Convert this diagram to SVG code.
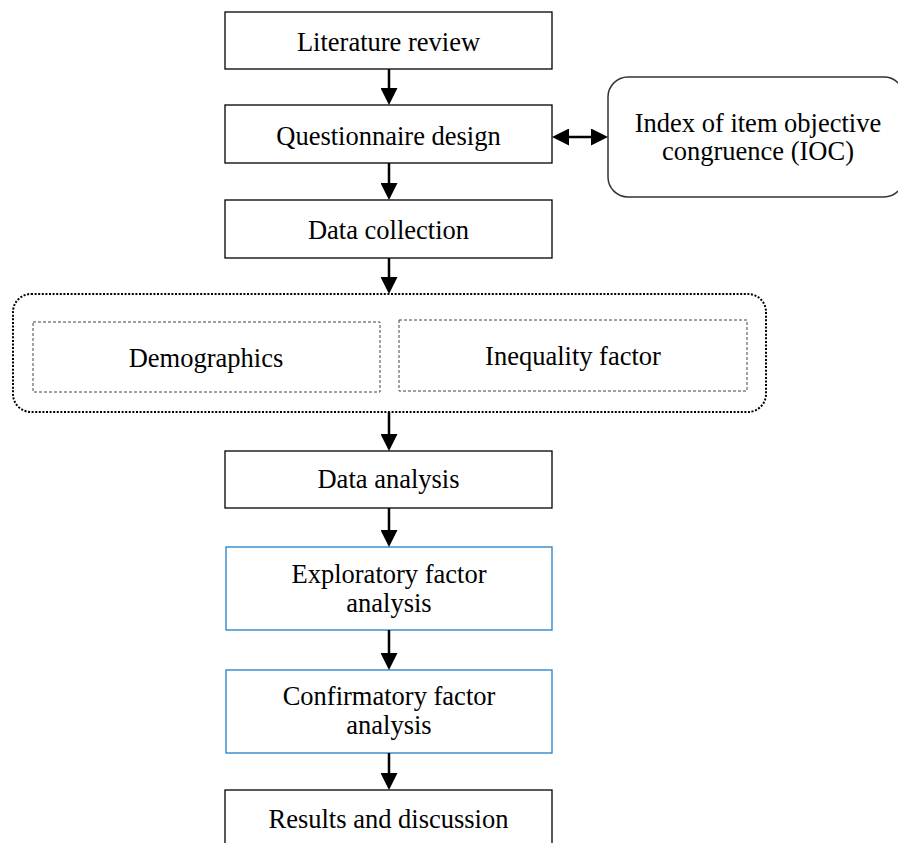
<svg xmlns="http://www.w3.org/2000/svg" width="898" height="843" viewBox="0 0 898 843">
<style>
  .box { fill: #ffffff; stroke: #000000; stroke-width: 1.3; }
  .blue { fill: #ffffff; stroke: #1f7fc8; stroke-width: 1.3; }
  .round { fill: #ffffff; stroke: #333333; stroke-width: 1.5; }
  .group { fill: none; stroke: #000000; stroke-width: 2; stroke-dasharray: 2 1.6; }
  .sub { fill: none; stroke: #444444; stroke-width: 1; stroke-dasharray: 3 2; }
  .t { font-family: "Liberation Serif", "Times New Roman", serif; font-size: 26.5px; fill: #000000; text-anchor: middle; }
  .conn { stroke: #000000; stroke-width: 2.5; fill: none; }
</style>
<defs>
  <marker id="ah" markerUnits="userSpaceOnUse" markerWidth="17" markerHeight="17" refX="13" refY="8.5" orient="auto-start-reverse" viewBox="0 0 17 17">
    <path d="M0,0 L17,8.5 L0,17 Z" fill="#000000"/>
  </marker>
</defs>
<rect width="898" height="843" fill="#ffffff"/>

<g id="literature-review">
  <rect class="box" x="225" y="12" width="327" height="57"/>
  <text class="t" x="388.5" y="51">Literature review</text>
</g>
<g id="questionnaire-design">
  <rect class="box" x="225" y="105" width="327" height="58"/>
  <text class="t" x="388.5" y="145">Questionnaire design</text>
</g>
<g id="ioc">
  <rect class="round" x="608" y="77" width="296" height="120" rx="20" ry="20"/>
  <text class="t" x="758" y="132">Index of item objective</text>
  <text class="t" x="758" y="160">congruence (IOC)</text>
</g>
<g id="data-collection">
  <rect class="box" x="225" y="200" width="327" height="58"/>
  <text class="t" x="388.5" y="239">Data collection</text>
</g>
<g id="data-group">
  <rect class="group" x="13" y="294" width="753" height="118" rx="18" ry="18"/>
</g>
<g id="demographics">
  <rect class="sub" x="33" y="322" width="347" height="70"/>
  <text class="t" x="206" y="367">Demographics</text>
</g>
<g id="inequality-factor">
  <rect class="sub" x="399" y="320" width="348" height="71"/>
  <text class="t" x="573" y="365">Inequality factor</text>
</g>
<g id="data-analysis">
  <rect class="box" x="225" y="451" width="327" height="57"/>
  <text class="t" x="388.5" y="488">Data analysis</text>
</g>
<g id="exploratory-factor-analysis">
  <rect class="blue" x="226" y="547" width="326" height="83"/>
  <text class="t" x="389" y="583">Exploratory factor</text>
  <text class="t" x="389" y="612">analysis</text>
</g>
<g id="confirmatory-factor-analysis">
  <rect class="blue" x="226" y="670" width="326" height="83"/>
  <text class="t" x="389" y="705">Confirmatory factor</text>
  <text class="t" x="389" y="734">analysis</text>
</g>
<g id="results-and-discussion">
  <rect class="box" x="225" y="790" width="327" height="60"/>
  <text class="t" x="388.5" y="828">Results and discussion</text>
</g>

<g id="connectors">
  <line class="conn" x1="389" y1="69" x2="389" y2="101" marker-end="url(#ah)"/>
  <line class="conn" x1="389" y1="163" x2="389" y2="196" marker-end="url(#ah)"/>
  <line class="conn" x1="389" y1="258" x2="389" y2="290" marker-end="url(#ah)"/>
  <line class="conn" x1="389" y1="412" x2="389" y2="447" marker-end="url(#ah)"/>
  <line class="conn" x1="389" y1="508" x2="389" y2="543" marker-end="url(#ah)"/>
  <line class="conn" x1="389" y1="630" x2="389" y2="666" marker-end="url(#ah)"/>
  <line class="conn" x1="389" y1="753" x2="389" y2="786" marker-end="url(#ah)"/>
  <line class="conn" x1="556" y1="137" x2="604" y2="137" marker-start="url(#ah)" marker-end="url(#ah)"/>
</g>
</svg>
